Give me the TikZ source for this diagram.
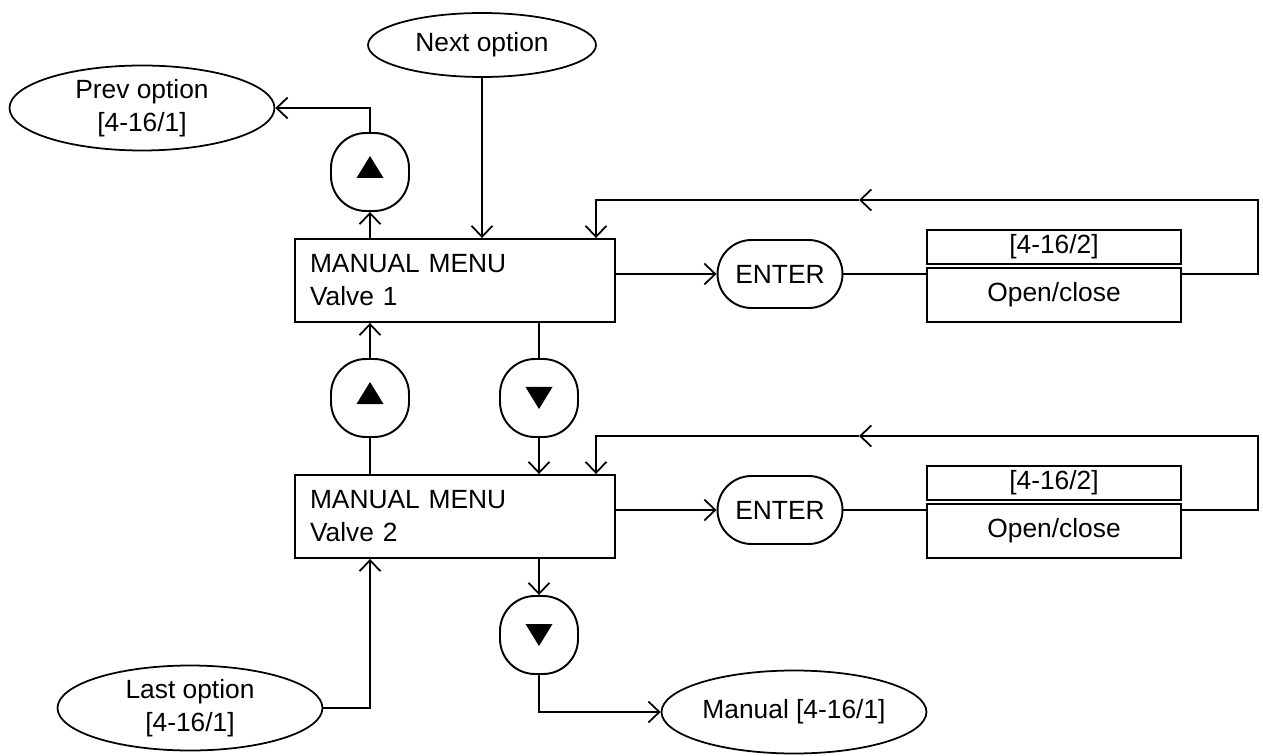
\documentclass[tikz,border=0pt]{standalone}
\usepackage{fontspec}
\setmainfont{Liberation Sans}
\usetikzlibrary{arrows.meta,calc,positioning,shapes.geometric}
\tikzset{
    myarrow/.style={-{Straight Barb[length=2.2mm,width=4.2mm]},line width=1pt},
    myline/.style={line width=1pt,draw=black},
    menubox/.style={draw,line width=1.1pt,minimum width=6.4cm,minimum height=1.66cm,text width=5.8cm,align=left,inner xsep=0.3cm},
    keybox/.style={draw,line width=1.1pt,rounded corners=0.7cm,minimum width=1.56cm,minimum height=1.56cm},
    enterbox/.style={draw,line width=1.1pt,rounded corners=0.68cm,minimum width=2.5cm,minimum height=1.36cm},
    parbox/.style={draw,line width=1.1pt,minimum width=5.08cm,inner sep=0pt},
    myoval/.style={ellipse,draw,line width=1pt,inner sep=0pt,align=center},
    every node/.style={font=\fontsize{15}{18.8}\selectfont}
}
\begin{document}
\begin{tikzpicture}[x=0.02cm,y=-0.02cm]
  \useasboundingbox (0,0) rectangle (1263,756);
  % the two menu rows
  \foreach \r/\y in {1/0,2/236}{
    \node[menubox] (menu\r) at (455,280.5+\y) {MANUAL MENU\\Valve \r};
    \node[enterbox] (enter\r) at (780,274+\y) {ENTER};
    \node[parbox,minimum height=0.68cm] (head\r) at (1054,247+\y) {[4-16/2]};
    \node[parbox,minimum height=1.08cm] (par\r) at (1054,295+\y) {Open/close};
    \coordinate (loop\r) at (1258,200+\y);
    \coordinate (mid\r) at (859,200+\y);
    \coordinate (back\r) at (596,200+\y);
    \draw[myarrow] (menu\r.east |- enter\r) -- (enter\r.west);
    \draw[myline] (enter\r.east) -- (enter\r.east -| par\r.west);
    \draw[myarrow] (par\r.east |- enter\r) -| (loop\r) -- (mid\r);
    \draw[myarrow] (mid\r) -- (back\r) -- (back\r |- menu\r.north);
  }
  % keys
  \node[keybox] (up1) at (370,172) {};
  \node[keybox] (up2) at (370,398) {};
  \node[keybox] (down1) at (539,398) {};
  \node[keybox] (down2) at (539,635) {};
  \foreach \B in {up1,up2}{\fill ($(\B)+(-13.5,6)$) -- ($(\B)+(13.5,6)$) -- ($(\B)+(0,-16)$) -- cycle;}
  \foreach \B in {down1,down2}{\fill ($(\B)+(-13.5,-11)$) -- ($(\B)+(13.5,-11)$) -- ($(\B)+(0,11)$) -- cycle;}
  % options
  \node[myoval,minimum width=4.56cm,minimum height=1.28cm] (next) at (482,45) {Next option};
  \node[myoval,minimum width=5.3cm,minimum height=1.7cm] (prev) at (142,108) {Prev option\\{[4-16/1]}};
  \node[myoval,minimum width=5.3cm,minimum height=1.7cm] (last) at (190,708) {Last option\\{[4-16/1]}};
  \node[myoval,minimum width=5.3cm,minimum height=1.66cm] (manual) at (794,712) {Manual [4-16/1]};
  % connectors
  \draw[myarrow] (next.south) -- (next.south |- menu1.north);
  \draw[myarrow] (up1.north) |- (prev.east);
  \draw[myarrow] (up1.south |- menu1.north) -- (up1.south);
  \draw[myarrow] (up2.north) -- (up2.north |- menu1.south);
  \draw[myline] (up2.south) -- (up2.south |- menu2.north);
  \draw[myline] (down1.north |- menu1.south) -- (down1.north);
  \draw[myarrow] (down1.south) -- (down1.south |- menu2.north);
  \draw[myarrow] (menu2.south -| down2) -- (down2.north);
  \draw[myarrow] (down2.south) |- (manual.west);
  \draw[myarrow] (last.east) -| (up2.south |- menu2.south);
\end{tikzpicture}
\end{document}
